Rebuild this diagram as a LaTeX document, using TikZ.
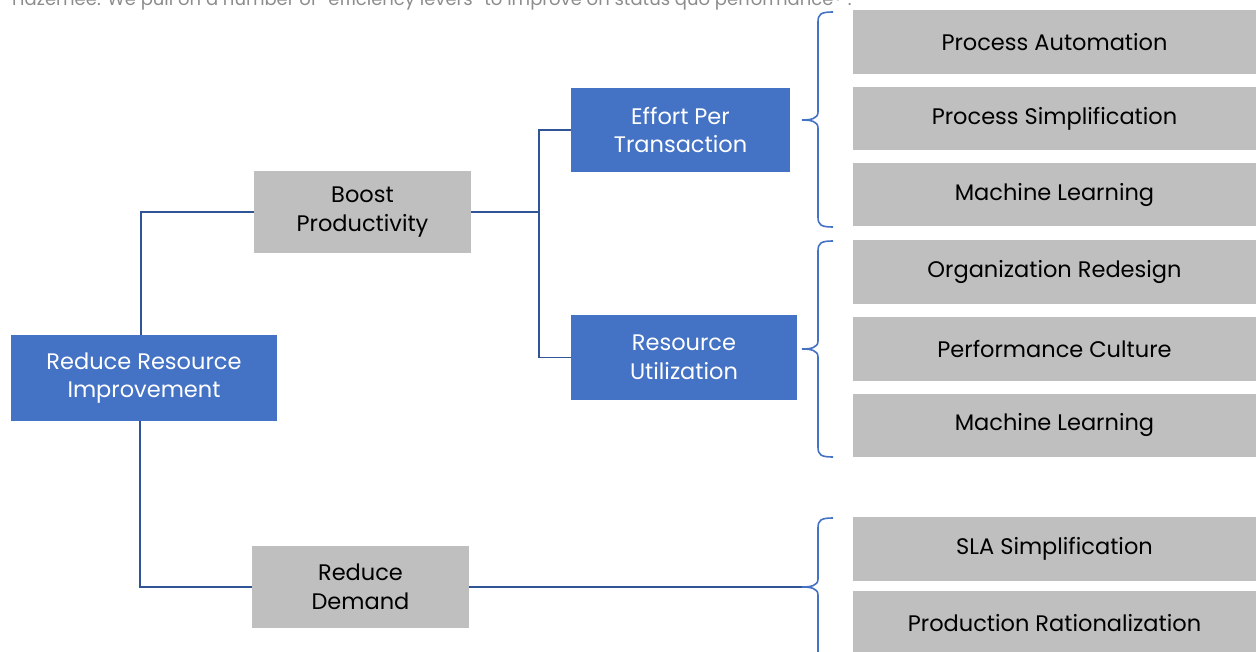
\documentclass[tikz,border=0pt]{standalone}
\usepackage{fontspec}
\setmainfont{Poppins}
\definecolor{boxblue}{HTML}{4472C4}
\definecolor{boxgrey}{HTML}{BFBFBF}
\definecolor{linkblue}{HTML}{2F5597}
\definecolor{bracecol}{HTML}{4472C4}
\definecolor{toptext}{HTML}{8C8C8C}
\tikzset{
  bluebox/.style={fill=boxblue, text=white, align=center, inner sep=0pt, font=\fontsize{22.5}{28.5}\selectfont},
  greybox/.style={fill=boxgrey, text=black, align=center, inner sep=0pt, font=\fontsize{22.5}{28.5}\selectfont},
  leafbox/.style={greybox, minimum width=403, minimum height=63},
  link/.style={draw=linkblue, line width=1.4pt},
  bracestyle/.style={draw=bracecol, line width=1.6pt},
}
\newcommand{\mybrace}[3]{%
  \draw[bracestyle] (833,#1) .. controls (821,#1) and (818,#1+2) .. (818,#1+10)
    -- (818,#2-8) .. controls (818,#2-1) and (810,#2) .. (802,#2)
    .. controls (810,#2) and (818,#2+1) .. (818,#2+8)
    -- (818,#3-10) .. controls (818,#3-2) and (821,#3) .. (833,#3);}
\begin{document}
\begin{tikzpicture}[x=1pt,y=-1pt]
\useasboundingbox (0,0) rectangle (1256,652);
\clip (0,0) rectangle (1256,652);
\node[anchor=base west, text=toptext, font=\fontsize{18}{22}\selectfont, inner sep=0pt] (top) at (12,5.5)
  {Hazemee: We pull on a number of “efficiency levers” to improve on status quo performance\textsuperscript{1,2}.};
% main nodes
\node[bluebox, minimum width=266, minimum height=85] (root) at (144,378) {Reduce Resource\\Improvement};
\node[greybox, minimum width=217, minimum height=82] (boost) at (362.5,212) {Boost\\Productivity};
\node[greybox, minimum width=217, minimum height=82] (demand) at (360.5,587) {Reduce\\Demand};
\node[bluebox, minimum width=219, minimum height=84] (effort) at (680.5,130) {Effort Per\\Transaction};
\node[bluebox, minimum width=226, minimum height=85] (resutil) at (684,357.5) {Resource\\Utilization};
% leaves
\node[leafbox, minimum height=64] (pa) at (1054.5,42) {Process Automation};
\node[leafbox] (ps) at (1054.5,119) {Process Simplification};
\node[leafbox] (ml1) at (1054.5,195) {Machine Learning};
\node[leafbox, minimum height=64] (ore) at (1054.5,272) {Organization Redesign};
\node[leafbox] (pc) at (1054.5,349) {Performance Culture};
\node[leafbox] (ml2) at (1054.5,425) {Machine Learning};
\node[leafbox, minimum height=64] (sla) at (1054.5,549) {SLA Simplification};
\node[leafbox, minimum height=64] (pr) at (1054.5,623) {Production Rationalization};
% connectors
\coordinate (j) at (539,212);
\coordinate (b3) at (805,587);
\draw[link] ([xshift=-3]root.north) |- (boost.west);
\draw[link] ([xshift=-4]root.south) |- (demand.west);
\draw[link] (boost.east) -- (j);
\draw[link] (effort.west) -| (j) |- (resutil.west);
\draw[link] (demand.east) -- (b3);
% braces
\mybrace{12}{120}{227}
\mybrace{241}{349}{457}
\mybrace{518}{587}{720}
\end{tikzpicture}
\end{document}
